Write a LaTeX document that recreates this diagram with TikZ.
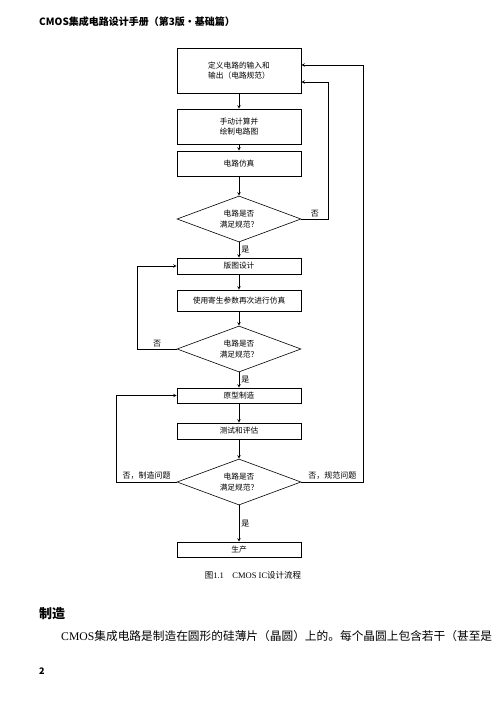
\documentclass[tikz,border=0pt]{standalone}
\usepackage{fontspec}
\setmainfont{Liberation Serif}
\newfontfamily\cjk{Noto Sans CJK SC}
\usetikzlibrary{shapes.geometric}

\begin{document}
\begin{tikzpicture}[x=1pt, y=-1pt]
	\tikzstyle{every node}=[font=\cjk\fontsize{7.7}{10.5}\selectfont]
	\tikzstyle{procbox}=[draw, line width=0.6pt, minimum width=124pt, align=center, inner sep=0pt]
	\tikzstyle{decision}=[draw, diamond, aspect=2.7, line width=0.6pt, minimum width=124pt, minimum height=46pt, align=center, inner sep=0pt]
	\tikzstyle{flow}=[->, >=stealth, line width=0.6pt]
	\tikzstyle{lbl}=[font=\cjk\fontsize{8}{10}\selectfont, inner sep=2pt]

	\useasboundingbox (0,0) rectangle (499,706);

	% page header
	\node[anchor=west, inner sep=0pt, font=\cjk\bfseries\fontsize{10}{12}\selectfont](Header) at (39, 22) {CMOS集成电路设计手册（第3版·基础篇）};

	% specification
	\node[procbox, minimum height=45pt](Spec) at (239, 70.5) {定义电路的输入和\\输出（电路规范）};

	% hand calculation
	\node[procbox, minimum height=35pt](Calc) at (239, 126.5) {手动计算并\\绘制电路图};

	% simulation
	\node[procbox, minimum height=25pt](Sim) at (239, 163.5) {电路仿真};

	% check 1
	\node[decision](Check1) at (239, 219) {电路是否\\满足规范？};

	% layout
	\node[procbox, minimum height=16pt](Layout) at (239, 266) {版图设计};

	% re-simulation
	\node[procbox, minimum height=21pt](Resim) at (239, 300.5) {使用寄生参数再次进行仿真};

	% check 2
	\node[decision](Check2) at (239, 349) {电路是否\\满足规范？};

	% prototype
	\node[procbox, minimum height=15pt](Proto) at (239, 395.5) {原型制造};

	% test
	\node[procbox, minimum height=16pt](Test) at (239, 431) {测试和评估};

	% check 3
	\node[decision](Check3) at (239, 482) {电路是否\\满足规范？};

	% production
	\node[procbox, minimum height=15pt](Prod) at (239, 549.5) {生产};

	% caption
	\node[font=\fontsize{8.5}{10}\selectfont](Caption) at (253, 575) {{\cjk 图}1.1\quad CMOS IC{\cjk 设计流程}};

	% section heading and text
	\node[anchor=west, inner sep=0pt, font=\cjk\bfseries\fontsize{13}{15}\selectfont](Heading) at (39, 614) {制造};
	\node[anchor=west, inner sep=0pt, font=\fontsize{11.7}{14}\selectfont](Para) at (61, 636) {CMOS{\cjk 集成电路是制造在圆形的硅薄片（晶圆）上的。每个晶圆上包含若干（甚至是}};
	\node[anchor=west, inner sep=0pt, font=\cjk\bfseries\fontsize{9}{11}\selectfont](PageNo) at (39, 671) {2};

	% lines
	% main flow
	\draw[flow](Spec)--(Calc);
	\draw[flow](Calc)--(Sim);
	\draw[flow](Sim)--(Check1);
	\draw[flow](Check1)--(Layout) node[lbl, midway, right]{是};
	\draw[flow](Layout)--(Resim);
	\draw[flow](Resim)--(Check2);
	\draw[flow](Check2)--(Proto) node[lbl, midway, right]{是};
	\draw[flow](Proto)--(Test);
	\draw[flow](Test)--(Check3);
	\draw[flow](Check3)--(Prod) node[lbl, midway, right]{是};

	% feedback loops
	% check 1 - spec
	\draw[flow](Check1.east)--++(27, 0) node[lbl, midway, above]{否} |-([yshift=-11.5pt]Spec.east);
	% check 2 - layout
	\draw[flow](Check2.west)--++(-39, 0) node[lbl, midway, above]{否} |-(Layout.west);
	% check 3 - prototype
	\draw[flow](Check3.west)--++(-60, 0) node[lbl, midway, above]{否，制造问题} |-(Proto.west);
	% check 3 - spec
	\draw[flow](Check3.east)--++(62, 0) node[lbl, midway, above]{否，规范问题} |-([yshift=5.5pt]Spec.east);
\end{tikzpicture}
\end{document}
